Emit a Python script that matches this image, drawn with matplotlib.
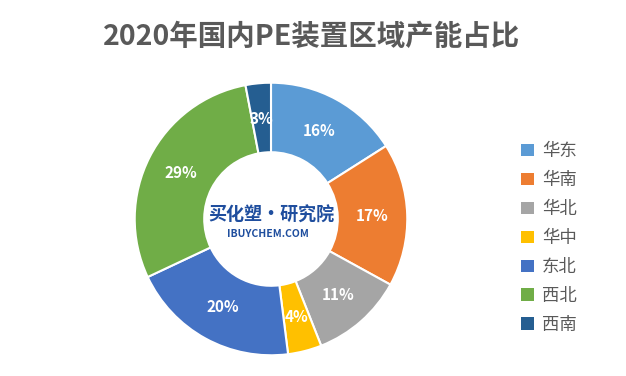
import matplotlib.pyplot as plt

plt.rcParams['font.family'] = ['Noto Sans CJK SC', 'DejaVu Sans']

# Data
regions = ["华东", "华南", "华北", "华中", "东北", "西北", "西南"]
shares = [16, 17, 11, 4, 20, 29, 3]
colors = ["#5B9BD5", "#ED7D31", "#A5A5A5", "#FFC000", "#4472C4", "#70AD47", "#255E91"]

W, H = 626, 376
fig = plt.figure(figsize=(W / 100, H / 100), dpi=100)

# Donut placement in pixels
cx, cy, r = 271, 219, 139
ax = fig.add_axes([(cx - r) / W, (H - cy - r) / H, 2 * r / W, 2 * r / H])

wedges, texts, autotexts = ax.pie(
    shares, colors=colors, startangle=90, counterclock=False,
    autopct=lambda p: f"{p:.0f}%", pctdistance=0.74,
    wedgeprops=dict(width=0.51, edgecolor="white", linewidth=1.5),
    textprops=dict(color="white", fontsize=11, fontweight="bold"),
)
ax.set_xlim(-1.02, 1.02)
ax.set_ylim(-1.02, 1.02)
ax.set_aspect("equal")

# Center logo text
ax.text(0, 0.03, "买化塑·研究院", ha="center", va="center", fontsize=13,
        fontweight="bold", color="#1F4E9E", style="italic")
ax.text(-0.02, -0.11, "IBUYCHEM.COM", ha="center", va="center", fontsize=7.5,
        fontweight="bold", color="#1F4E9E", style="italic")

# Title
fig.text(312 / W, 1 - 37 / H, "2020年国内PE装置区域产能占比", ha="center", va="center",
         fontsize=20.5, fontweight="bold", color="#595959")

# Legend
leg = ax.legend(wedges, regions, loc="center left",
                bbox_to_anchor=(521 / W, 1 - 238 / H), bbox_transform=fig.transFigure,
                frameon=False, fontsize=12.5, labelcolor="#595959",
                borderpad=0, borderaxespad=0,
                handlelength=0.75, handleheight=0.75, handletextpad=0.45,
                labelspacing=0.63)
for h in leg.legend_handles:
    h.set_edgecolor("none")

fig.savefig("out.png", dpi=100)
